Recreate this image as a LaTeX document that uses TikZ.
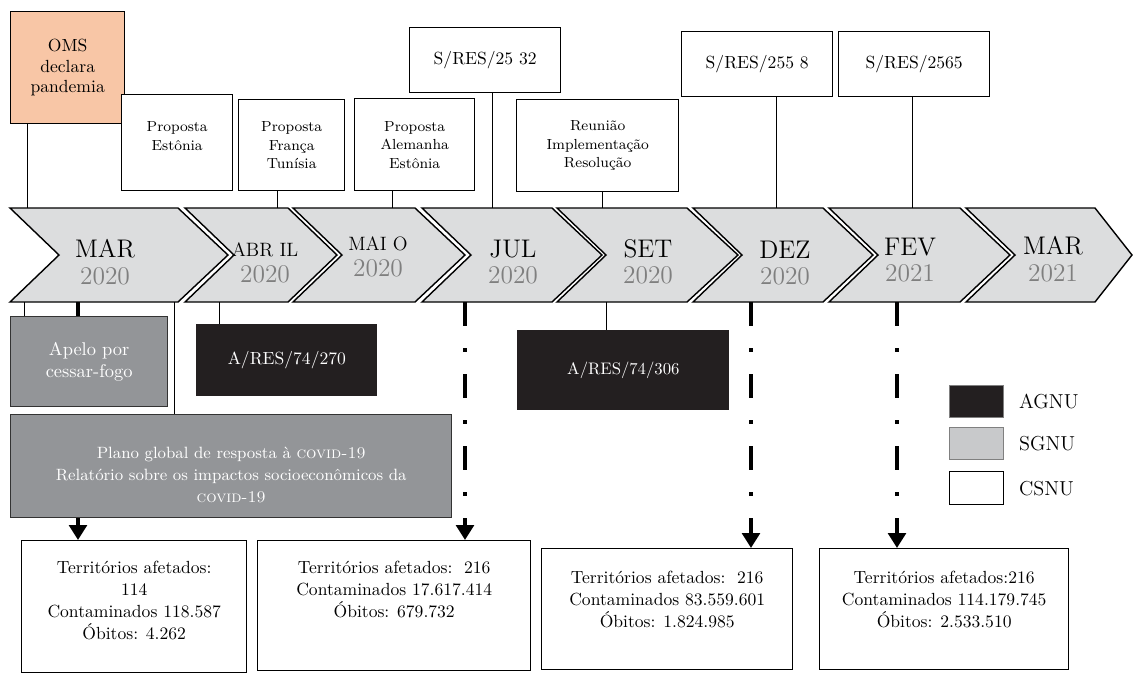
\documentclass[tikz,border=0pt]{standalone}
\usepackage{tikz}
\usetikzlibrary{arrows.meta,positioning}

\definecolor{chevgray}{HTML}{DCDDDE}
\definecolor{yeargray}{HTML}{7F7F7F}
\definecolor{omsfill}{HTML}{F8C6A6}
\definecolor{sgnufill}{HTML}{939598}
\definecolor{sgnulight}{HTML}{C8C9CB}
\definecolor{agnufill}{HTML}{231F20}

\tikzset{
  chev/.style={fill=chevgray, draw=black, line width=0.8pt},
  month/.style={align=center, font=\fontsize{14.5}{15}\selectfont},
  csnu/.style={draw=black, line width=0.8pt, fill=white, align=center, inner sep=0pt, anchor=north west},
  sgnu/.style={draw=black!80, line width=0.8pt, fill=sgnufill, text=white, align=center, inner sep=0pt, anchor=north west},
  agnu/.style={fill=agnufill, text=white, align=center, inner sep=0pt, anchor=north west},
  small/.style={font=\fontsize{8.3}{10.5}\selectfont},
  stat/.style={align=center, anchor=north, font=\fontsize{10}{12.5}\selectfont},
  link/.style={line width=0.5pt},
  thickarr/.style={line width=2.3pt, -{Triangle[width=10pt,length=8.5pt]}},
  dasharr/.style={thickarr, dash pattern=on 13.7pt off 12.5pt on 2.3pt off 12.5pt},
  legend/.style={font=\fontsize{11.5}{13}\selectfont}
}

\begin{document}
\begin{tikzpicture}[x=0.02cm, y=-0.02cm]
\def\sz{0.02cm}
\useasboundingbox (0,0) rectangle (1133,674);

% Timeline
\foreach \l/\r/\d in {10/178/50, 185/288/49, 293/415/50, 422/552/50, 557/687/51, 693/823/50, 829/960/50, 966/1095/37}
  \draw[chev] (\l,208) -- (\r,208) -- ({\r+\d},255) -- (\r,302) -- (\l,302) -- ({\l+49},255) -- cycle;

\node[month] (mar20) at (105,262) {MAR\\\textcolor{yeargray}{2020}};
\node[month] (abr20) at (265,263) {{\fontsize{11}{13}\selectfont ABR IL}\\\textcolor{yeargray}{2020}};
\node[month] (mai20) at (378,257) {{\fontsize{11}{13}\selectfont MAI O}\\\textcolor{yeargray}{2020}};
\node[month] (jul20) at (513,262) {JUL\\\textcolor{yeargray}{2020}};
\node[month] (set20) at (648,262) {SET\\\textcolor{yeargray}{2020}};
\node[month] (dez20) at (785,263) {DEZ\\\textcolor{yeargray}{2020}};
\node[month] (fev21) at (910,260) {FEV\\\textcolor{yeargray}{2021}};
\node[month] (mar21) at (1053,259) {MAR\\\textcolor{yeargray}{2021}};

% Anchor points on the timeline
\foreach \n/\x in {omsT/27, francaT/277, alemanhaT/392, res2532T/492, reuniaoT/602, res2558T/776, res2565T/912}
  \coordinate (\n) at (\x,208);
\foreach \n/\x in {apeloB/24, marB/78, planoB/174, ares270B/219, julB/465, ares306B/606, dezB/751, fevB/897}
  \coordinate (\n) at (\x,302);

% Bottom boxes
\node[csnu, minimum width=225*\sz, minimum height=132*\sz] (b1) at (21,540) {};
\node[csnu, minimum width=273*\sz, minimum height=130*\sz] (b2) at (257,540) {};
\node[csnu, minimum width=251*\sz, minimum height=121*\sz] (b3) at (541,548) {};
\node[csnu, minimum width=249*\sz, minimum height=121*\sz] (b4) at (819,548) {};
\node[stat] (b1txt) at ([yshift=-15*\sz]b1.north) {Territórios afetados:\\114\\Contaminados 118.587\\Óbitos: 4.262};
\node[stat] (b2txt) at ([yshift=-15*\sz]b2.north) {Territórios afetados:\ \ 216\\Contaminados 17.617.414\\Óbitos: 679.732};
\node[stat] (b3txt) at ([yshift=-17*\sz]b3.north) {Territórios afetados:\ \ 216\\Contaminados 83.559.601\\Óbitos: 1.824.985};
\node[stat] (b4txt) at ([yshift=-17*\sz]b4.north) {Territórios afetados:216\\Contaminados 114.179.745\\Óbitos: 2.533.510};

% Arrows down to the figures
\draw[dasharr] (julB) -- (julB |- b2.north);
\draw[dasharr] (dezB) -- (dezB |- b3.north);
\draw[dasharr] (fevB) -- (fevB |- b4.north);

% Top boxes
\node[csnu, fill=omsfill, minimum width=114*\sz, minimum height=112*\sz, font=\fontsize{10}{11.5}\selectfont] (oms) at (10,11) {OMS\\declara\\pandemia};
\node[csnu, small, minimum width=111*\sz, minimum height=96*\sz] (estonia) at (121,94) {Proposta\\Estônia\\[-3pt]};
\node[csnu, small, minimum width=106*\sz, minimum height=91*\sz] (franca) at (238,99) {Proposta\\França\\Tunísia};
\node[csnu, small, minimum width=120*\sz, minimum height=92*\sz] (alemanha) at (354,98) {Proposta\\Alemanha\\Estônia};
\node[csnu, minimum width=151*\sz, minimum height=65*\sz, font=\fontsize{10}{12}\selectfont] (res2532) at (409,27) {S/RES/25 32};
\node[csnu, small, minimum width=162*\sz, minimum height=92*\sz] (reuniao) at (516,99) {Reunião\\Implementação\\Resolução};
\node[csnu, minimum width=151*\sz, minimum height=65*\sz, font=\fontsize{10}{12}\selectfont] (res2558) at (681,31) {S/RES/255 8};
\node[csnu, minimum width=151*\sz, minimum height=65*\sz, font=\fontsize{10}{12}\selectfont] (res2565) at (838,31) {S/RES/2565};

\draw[link] (omsT |- oms.south) -- (omsT);
\draw[link] (francaT |- franca.south) -- (francaT);
\draw[link] (alemanhaT |- alemanha.south) -- (alemanhaT);
\draw[link] (res2532T |- res2532.south) -- (res2532T);
\draw[link] (reuniaoT |- reuniao.south) -- (reuniaoT);
\draw[link] (res2558T |- res2558.south) -- (res2558T);
\draw[link] (res2565T |- res2565.south) -- (res2565T);

% Boxes under the timeline
\node[sgnu, minimum width=157*\sz, minimum height=90*\sz, font=\fontsize{10.5}{12.5}\selectfont] (apelo) at (10,316) {Apelo por\\cessar-fogo};
\node[agnu, minimum width=181*\sz, minimum height=72*\sz, font=\fontsize{10}{12}\selectfont] (ares270) at (196,324) {A/RES/74/270};
\node[agnu, minimum width=212*\sz, minimum height=80*\sz, font=\fontsize{9.5}{12}\selectfont] (ares306) at (517,330) {A/RES/74/306};
\node[sgnu, minimum width=441*\sz, minimum height=103*\sz] (plano) at (10,414) {};
\node[text=white, align=center, font=\fontsize{9.3}{12.5}\selectfont] (planotxt) at ([yshift=-9*\sz]plano.center)
  {Plano global de resposta à \textsc{covid-19}\\Relatório sobre os impactos socioeconômicos da\\\textsc{covid-19}};

\draw[link] (apeloB) -- (apeloB |- apelo.north);
\draw[link] (planoB) -- (planoB |- plano.north);
\draw[link] (ares270B) -- (ares270B |- ares270.north);
\draw[link] (ares306B) -- (ares306B |- ares306.north);
\draw[line width=2.3pt] (marB) -- (marB |- apelo.north);
\draw[thickarr] (marB |- plano.south) -- (marB |- b1.north);

% Legend
\node[agnu, draw=gray, line width=0.8pt, minimum width=54*\sz, minimum height=32*\sz] (kagnu) at (949,385) {};
\node[agnu, fill=sgnulight, draw=gray, line width=0.8pt, minimum width=54*\sz, minimum height=32*\sz] (ksgnu) at (949,427) {};
\node[csnu, minimum width=54*\sz, minimum height=33*\sz] (kcsnu) at (949,471) {};
\node[legend, right=0.17cm of kagnu] (lagnu) {AGNU};
\node[legend, right=0.17cm of ksgnu] (lsgnu) {SGNU};
\node[legend, right=0.17cm of kcsnu] (lcsnu) {CSNU};

\end{tikzpicture}
\end{document}
